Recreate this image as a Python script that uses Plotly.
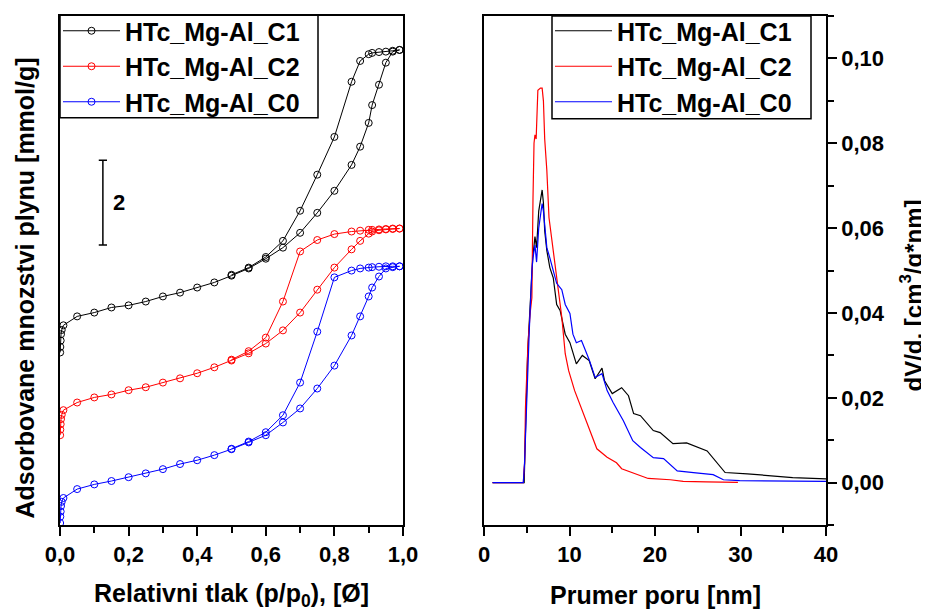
import plotly.graph_objects as go

# ---------------- Left panel: isotherms (stacked, arbitrary offset units) ----------------
P_ADS = [0.0005, 0.001, 0.002, 0.003, 0.005, 0.01, 0.05, 0.10, 0.15, 0.20, 0.25, 0.30, 0.35,
         0.40, 0.45, 0.50, 0.55, 0.60, 0.65, 0.70, 0.75, 0.80, 0.85, 0.875, 0.90, 0.91, 0.93,
         0.95, 0.97, 0.99]
P_DES = [0.99, 0.97, 0.95, 0.93, 0.91, 0.90, 0.875, 0.85, 0.80, 0.75, 0.70, 0.65, 0.60, 0.55, 0.50]

C1_ADS = [4.07, 4.20, 4.35, 4.50, 4.60, 4.71, 4.92, 5.01, 5.13, 5.18, 5.27, 5.39, 5.48,
          5.60, 5.72, 5.88, 6.05, 6.28, 6.54, 6.89, 7.36, 7.88, 8.49, 8.92, 9.48, 9.90, 10.38,
          10.90, 11.16, 11.20]
C1_DES = [11.20, 11.18, 11.16, 11.15, 11.13, 11.10, 10.94, 10.45, 9.15, 8.26, 7.41, 6.70, 6.32, 6.07, 5.90]

C2_ADS = [2.12, 2.25, 2.38, 2.50, 2.60, 2.71, 2.89, 3.01, 3.08, 3.18, 3.25, 3.36, 3.46,
          3.58, 3.72, 3.88, 4.05, 4.28, 4.59, 5.01, 5.55, 6.07, 6.50, 6.70, 6.87, 6.92, 6.95,
          6.97, 6.98, 6.99]
C2_DES = [6.99, 6.99, 6.98, 6.97, 6.96, 6.96, 6.94, 6.92, 6.86, 6.72, 6.45, 5.27, 4.42, 4.10, 3.90]

C0_ADS = [0.05, 0.20, 0.32, 0.45, 0.55, 0.64, 0.85, 0.96, 1.04, 1.13, 1.22, 1.32, 1.44,
          1.53, 1.65, 1.79, 1.95, 2.12, 2.42, 2.75, 3.22, 3.76, 4.47, 4.92, 5.39, 5.60, 5.86,
          6.05, 6.08, 6.10]
C0_DES = [6.10, 6.10, 6.10, 6.09, 6.08, 6.07, 6.05, 6.00, 5.84, 4.56, 3.36, 2.59, 2.19, 1.97, 1.80]

SCALE_BAR_X = 0.125
SCALE_BAR_Y0 = 6.6
SCALE_BAR_LEN = 2

# ---------------- Right panel: pore size distributions ----------------
D_C1 = [1, 4.7, 4.8, 4.95, 5.1, 5.26, 5.5, 5.7, 5.96, 6.15, 6.4, 6.8, 6.95, 7.1, 7.35, 7.7,
        8.1, 8.5, 8.9, 9.5, 10.05, 10.8, 11.5, 12.3, 13.0, 13.8, 14.1, 15.0, 16.1, 16.9, 17.5,
        18.3, 19.8, 20.6, 22.1, 23.7, 26.1, 28.2, 30.8, 33.1, 36.1, 40]
V_C1 = [0, 0, 0.0083, 0.0217, 0.030, 0.0366, 0.045, 0.053, 0.058, 0.0554, 0.064, 0.069, 0.066,
        0.0594, 0.0547, 0.0507, 0.0483, 0.042, 0.0406, 0.035, 0.033, 0.028, 0.030, 0.0288,
        0.0245, 0.027, 0.024, 0.021, 0.0224, 0.0205, 0.0163, 0.0158, 0.0123, 0.0118, 0.0092,
        0.0094, 0.0075, 0.0024, 0.0021, 0.0017, 0.0012, 0.0009]

D_C2 = [1, 4.6, 4.68, 4.75, 4.85, 5.0, 5.15, 5.4, 5.6, 5.73, 5.85, 5.96, 6.1, 6.3, 6.6, 6.8,
        6.95, 7.1, 7.35, 7.6, 7.9, 8.2, 8.7, 9.1, 9.5, 9.9, 10.6, 11.2, 12.2, 13.2, 14.4, 15.5,
        16.1, 17.4, 19.2, 21.8, 23.3, 26.0, 29.7]
V_C2 = [0, 0, 0.003, 0.0045, 0.0177, 0.025, 0.033, 0.040, 0.0436, 0.067, 0.080, 0.082, 0.081,
        0.0925, 0.093, 0.093, 0.090, 0.081, 0.0736, 0.0625, 0.058, 0.053, 0.046, 0.039, 0.0304,
        0.0264, 0.0217, 0.0186, 0.013, 0.008, 0.006, 0.0047, 0.0033, 0.0024, 0.001, 0.0007,
        0.0003, 0.0002, 0.0001]

D_C0 = [1, 4.6, 4.75, 4.9, 5.1, 5.3, 5.6, 5.73, 5.96, 6.15, 6.4, 6.8, 6.95, 7.35, 7.7, 8.1,
        8.5, 8.9, 9.1, 9.5, 10.05, 10.4, 10.8, 11.4, 12.3, 13.0, 13.8, 14.4, 15.1, 16.3, 17.4,
        18.3, 19.8, 21.0, 22.6, 24.5, 26.8, 28.0, 29.9, 40]
V_C0 = [0, 0, 0.005, 0.015, 0.028, 0.036, 0.050, 0.053, 0.056, 0.052, 0.060, 0.0658, 0.064,
        0.0554, 0.053, 0.050, 0.047, 0.046, 0.0455, 0.042, 0.0399, 0.035, 0.033, 0.0335, 0.029,
        0.0248, 0.0257, 0.0217, 0.0189, 0.0146, 0.0099, 0.0083, 0.0059, 0.0057, 0.0028, 0.0024,
        0.0019, 0.0007, 0.0005, 0.0003]

NAMES = ["HTc_Mg-Al_C1", "HTc_Mg-Al_C2", "HTc_Mg-Al_C0"]
COLORS = ["#000000", "#ff0000", "#0000ff"]

X1_TICKS = [0, 0.2, 0.4, 0.6, 0.8, 1.0]
X1_LABELS = ["0,0", "0,2", "0,4", "0,6", "0,8", "1,0"]
X2_TICKS = [0, 10, 20, 30, 40]
Y2_TICKS = [0, 0.02, 0.04, 0.06, 0.08, 0.10]
Y2_LABELS = ["0,00", "0,02", "0,04", "0,06", "0,08", "0,10"]

FONT = "Liberation Sans"
# page body has an 8px margin: build the figure 8px smaller and shift all positions
OFF = 8
W, H = 929 - OFF, 610 - OFF


def px(s):
    return (s - OFF) / W


def py(s):
    return 1 - (s - OFF) / H


fig = go.Figure()

iso = [(C1_ADS, C1_DES), (C2_ADS, C2_DES), (C0_ADS, C0_DES)]
for (ads, des), name, col in zip(iso, NAMES, COLORS):
    fig.add_trace(go.Scatter(
        x=P_ADS + P_DES, y=ads + des, name=name, mode="lines+markers",
        line=dict(color=col, width=1),
        marker=dict(symbol="circle-open", size=7, color=col, line=dict(width=1, color=col)),
        xaxis="x", yaxis="y", legend="legend"))

psd = [(D_C1, V_C1), (D_C2, V_C2), (D_C0, V_C0)]
for (d, v), name, col in zip(psd, NAMES, COLORS):
    fig.add_trace(go.Scatter(
        x=d, y=v, name=name, mode="lines", line=dict(color=col, width=1.2),
        xaxis="x2", yaxis="y2", legend="legend2"))

ydom = [py(525), py(15)]
tickfont = dict(family=FONT, size=22, color="black", weight="bold")
common = dict(showline=True, linecolor="black", linewidth=1.5, mirror=True,
              showgrid=False, zeroline=False, ticks="outside", tickcolor="black",
              tickwidth=1.5, ticklen=9, tickfont=tickfont, automargin=False)

legfont = dict(family=FONT, size=25, color="black", weight="bold")
fig.update_layout(
    template="none",
    width=W, height=H, autosize=False,
    margin=dict(l=0, r=0, t=0, b=0, pad=0),
    paper_bgcolor="white", plot_bgcolor="white",
    showlegend=True,
    xaxis=dict(domain=[px(60), px(403)], range=[0, 1], tickvals=X1_TICKS, ticktext=X1_LABELS,
               minor=dict(tickvals=[0.1, 0.3, 0.5, 0.7, 0.9], ticklen=6, tickwidth=1.5,
                          tickcolor="black", ticks="outside"),
               anchor="y", **common),
    yaxis=dict(domain=ydom, range=[0, 12], showticklabels=False, showline=True,
               linecolor="black", linewidth=1.5, mirror=True, showgrid=False,
               zeroline=False, ticks="", anchor="x", automargin=False),
    xaxis2=dict(domain=[px(484), px(826)], range=[0, 40], tickvals=X2_TICKS,
                minor=dict(tickvals=[5, 15, 25, 35], ticklen=6, tickwidth=1.5,
                           tickcolor="black", ticks="outside"),
                anchor="y2", **common),
    yaxis2=dict(domain=ydom, range=[-0.01, 0.11], side="right", tickvals=Y2_TICKS,
                ticktext=Y2_LABELS,
                minor=dict(tickvals=[-0.01, 0.01, 0.03, 0.05, 0.07, 0.09, 0.11], ticklen=6,
                           tickwidth=1.5, tickcolor="black", ticks="outside"),
                anchor="x2", **common),
    legend=dict(x=px(58), y=py(7), xanchor="left", yanchor="top",
                bgcolor="rgba(0,0,0,0)", borderwidth=0,
                font=legfont, itemwidth=57),
    legend2=dict(x=px(550), y=py(7), xanchor="left", yanchor="top",
                 bgcolor="rgba(0,0,0,0)", borderwidth=0,
                 font=legfont, itemwidth=57),
)

# legend frames
for (x0, y0, x1b, y1b) in [(60, 14, 318, 117), (552, 15, 811, 118)]:
    fig.add_shape(type="rect", xref="paper", yref="paper",
                  x0=px(x0), x1=px(x1b), y0=py(y1b), y1=py(y0),
                  line=dict(color="black", width=1.5), fillcolor="rgba(0,0,0,0)")

# scale bar (2 units) on left panel
cap = 0.012
y1 = SCALE_BAR_Y0 + SCALE_BAR_LEN
fig.add_shape(type="line", xref="x", yref="y", x0=SCALE_BAR_X, x1=SCALE_BAR_X,
              y0=SCALE_BAR_Y0, y1=y1, line=dict(color="black", width=1.5))
for yy in (SCALE_BAR_Y0, y1):
    fig.add_shape(type="line", xref="x", yref="y", x0=SCALE_BAR_X - cap, x1=SCALE_BAR_X + cap,
                  y0=yy, y1=yy, line=dict(color="black", width=1.5))
fig.add_annotation(x=0.149, y=SCALE_BAR_Y0 + SCALE_BAR_LEN / 2, xref="x", yref="y",
                   text=str(SCALE_BAR_LEN), showarrow=False, xanchor="left", yanchor="middle",
                   font=dict(family=FONT, size=22, color="black", weight="bold"))

titlefont = dict(family=FONT, size=25, color="black", weight="bold")
fig.add_annotation(x=px(25), y=py(288), xref="paper", yref="paper",
                   text="Adsorbovane mnozstvi plynu [mmol/g]", textangle=-90,
                   xanchor="center", yanchor="middle", showarrow=False, font=titlefont)
fig.add_annotation(x=px(911), y=py(295), xref="paper", yref="paper",
                   text="dV/d, [cm<sup>3</sup>/g*nm]", textangle=-90,
                   xanchor="center", yanchor="middle", showarrow=False,
                   font=dict(family=FONT, size=24, color="black", weight="bold"))
fig.add_annotation(x=px(231), y=py(595), xref="paper", yref="paper",
                   text="Relativni tlak (p/p<sub>0</sub>), [Ø]",
                   xanchor="center", yanchor="middle", showarrow=False, font=titlefont)
fig.add_annotation(x=px(655), y=py(595), xref="paper", yref="paper",
                   text="Prumer poru [nm]", xanchor="center", yanchor="middle",
                   showarrow=False, font=titlefont)

fig.write_html("out.html")
